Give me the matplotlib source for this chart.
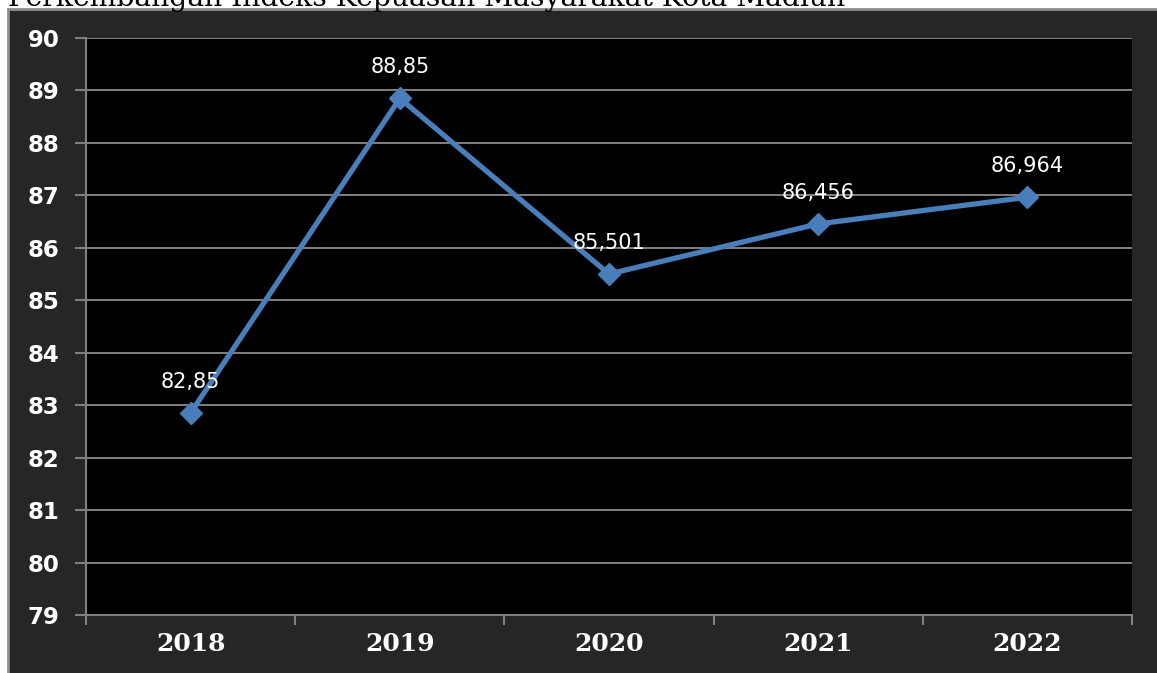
import matplotlib.pyplot as plt
from matplotlib.patches import Rectangle
import numpy as np

years = ["2018", "2019", "2020", "2021", "2022"]
ikm = [82.85, 88.85, 85.501, 86.456, 86.964]
labels = ["82,85", "88,85", "85,501", "86,456", "86,964"]
title = "Perkembangan Indeks Kepuasan Masyarakat Kota Madiun"

fig = plt.figure(figsize=(11.57, 6.73), dpi=100)
fig.patch.set_facecolor("white")

# dark chart frame behind the axes
frame = Rectangle((8 / 1157, -0.01), 1.0, (673 - 9) / 673 + 0.01, transform=fig.transFigure,
                  facecolor="#262626", edgecolor="#8c8c8c", linewidth=2, zorder=-5)
fig.add_artist(frame)
# title is clipped at the top edge, as in the source image
fig.text(8 / 1157, 1.0 - 6.5 / 673, title, family="DejaVu Serif", fontsize=20.3, color="black",
         va="baseline", ha="left")

ax = fig.add_axes([86 / 1157, 58 / 673, (1132 - 86) / 1157, (615 - 38) / 673])
ax.set_facecolor("black")

x = np.arange(len(years))
ax.plot(x, ikm, color="#4a7ebb", lw=3.8, marker="D", ms=11, zorder=3)
for xi, yi, lab in zip(x, ikm, labels):
    ax.annotate(lab, (xi, yi), xytext=(0, 15), textcoords="offset points", ha="center",
                va="bottom", color="white", fontsize=15)

ax.set_xlim(-0.5, 4.5)
ax.set_ylim(79, 90)
ax.set_yticks(range(79, 91))
ax.yaxis.grid(True, color="#808080", lw=1.4)
ax.set_axisbelow(True)

ax.set_xticks(np.arange(-0.5, 5, 1))
ax.set_xticklabels([])
ax.set_xticks(x, minor=True)
ax.set_xticklabels(years, minor=True, family="DejaVu Serif", fontweight="bold", fontsize=18,
                   color="white")
ax.tick_params(axis="x", which="minor", length=0, pad=12)
ax.tick_params(axis="x", which="major", length=7, width=1.5, color="#808080", direction="out")
ax.tick_params(axis="y", length=8, width=1.5, color="#808080", labelcolor="white",
               labelsize=16.5, pad=11)
for t in ax.get_yticklabels():
    t.set_fontweight("bold")

for s in ["top", "right"]:
    ax.spines[s].set_visible(False)
for s in ["left", "bottom"]:
    ax.spines[s].set_color("#808080")
    ax.spines[s].set_linewidth(1.5)

fig.savefig("out.png", dpi=100, facecolor=fig.get_facecolor())
